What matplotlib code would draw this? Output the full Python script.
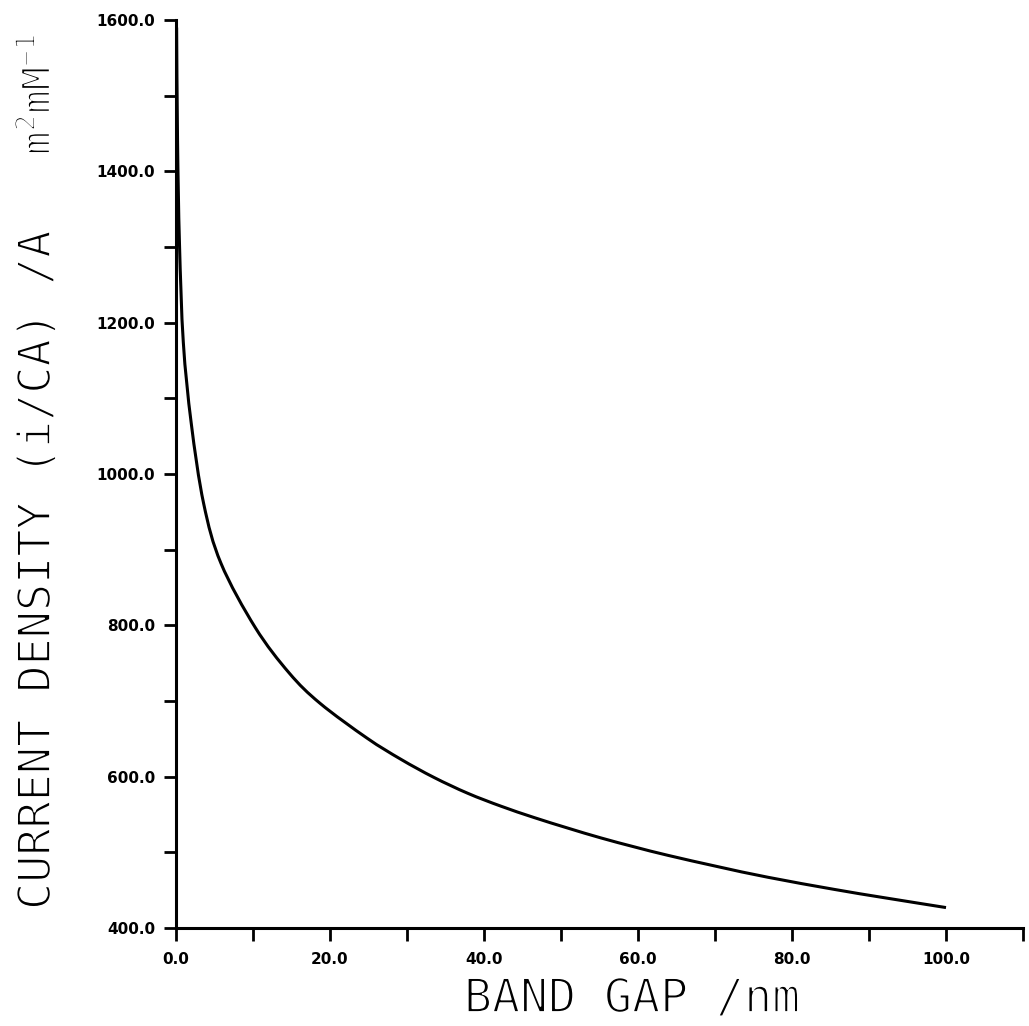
import matplotlib
matplotlib.use("Agg")
import matplotlib.pyplot as plt
import numpy as np
from matplotlib.path import Path
from matplotlib.patches import PathPatch
from matplotlib.ticker import FixedLocator, FormatStrFormatter
import matplotlib.patheffects as pe

# Data (band gap in nm, current density)
band_gap = [0.08, 0.2, 0.45, 0.95, 1.98, 3.59, 5.84, 10.3, 14.7, 18.7,
            24.8, 29.2, 33.5, 37.9, 42.2, 46.5, 50.9, 55.2, 59.6, 63.9,
            70.4, 76.9, 85.5, 92.0, 100.0]
current_density = [1590, 1440, 1305, 1174, 1067, 961, 882, 797, 737, 697,
                   651, 623, 599, 578, 561, 546, 532, 519, 507, 496,
                   481, 467, 451, 440, 427]

x_major = [0, 20, 40, 60, 80, 100]
x_minor = [10, 30, 50, 70, 90, 110]
y_major = [400, 600, 800, 1000, 1200, 1400, 1600]
y_minor = [500, 700, 900, 1100, 1300, 1500]

W, H = 1029, 1026
fig = plt.figure(figsize=(W / 100, H / 100), dpi=100)

x0_px, x1_px = 176, 1023
yb_px, yt_px = 928, 20
ax = fig.add_axes([x0_px / W, 1 - yb_px / H, (x1_px - x0_px) / W, (yb_px - yt_px) / H])


def smooth_path(xs, ys):
    """Catmull-Rom curve through the read points, as cubic Bezier segments."""
    P = np.column_stack([xs, ys]).astype(float)
    n = len(P)
    verts = [P[0]]
    codes = [Path.MOVETO]
    for i in range(n - 1):
        p0 = P[i - 1] if i > 0 else P[i]
        p1, p2 = P[i], P[i + 1]
        p3 = P[i + 2] if i + 2 < n else P[i + 1]
        c1 = p1 + (p2 - p0) / 6.0
        c2 = p2 - (p3 - p1) / 6.0
        verts += [c1, c2, p2]
        codes += [Path.CURVE4] * 3
    return Path(verts, codes)


ax.add_patch(PathPatch(smooth_path(band_gap, current_density), facecolor="none",
                       edgecolor="black", lw=2.2, transform=ax.transData))

ax.set_xlim(0, 110)
ax.set_ylim(400, 1600)
for s in ["top", "right"]:
    ax.spines[s].set_visible(False)
for s in ["left", "bottom"]:
    ax.spines[s].set_linewidth(2.2)

ax.xaxis.set_major_locator(FixedLocator(x_major))
ax.xaxis.set_minor_locator(FixedLocator(x_minor))
ax.yaxis.set_major_locator(FixedLocator(y_major))
ax.yaxis.set_minor_locator(FixedLocator(y_minor))
ax.xaxis.set_major_formatter(FormatStrFormatter("%.1f"))
ax.yaxis.set_major_formatter(FormatStrFormatter("%.1f"))

ax.tick_params(axis="both", which="both", direction="out", length=9, width=2.0, color="black")
ax.tick_params(axis="x", which="major", pad=8)
ax.tick_params(axis="y", which="major", pad=6)
for lab in ax.get_xticklabels() + ax.get_yticklabels():
    lab.set_family("DejaVu Sans")
    lab.set_fontweight("bold")
    lab.set_fontsize(11)

mono = ["DejaVu Sans Mono", "DejaVu Sans"]
thin = [pe.Stroke(linewidth=1.3, foreground="white")]

fig.text(632 / W, 1 - 1012 / H, "BAND GAP /nm", family=mono, fontsize=33.5,
         ha="center", va="baseline", path_effects=thin)

fig.text(50 / W, 1 - 910 / H, "CURRENT DENSITY (i/CA) /A", family=mono, fontsize=32.5,
         rotation=90, rotation_mode="anchor", ha="left", va="baseline", path_effects=thin)
fig.text(50 / W, 1 - 155 / H, r"m$^{\mathregular{2}}$mM$^{\mathregular{-1}}$", family=mono,
         fontsize=28, rotation=90, rotation_mode="anchor", ha="left", va="baseline",
         path_effects=thin)

fig.savefig("out.png", dpi=100)
